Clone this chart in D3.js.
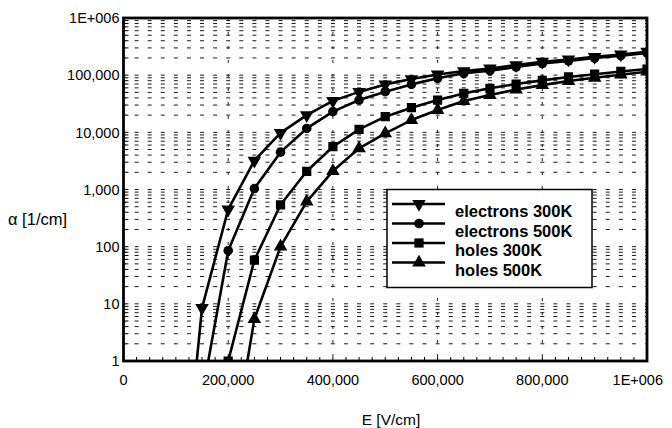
<!DOCTYPE html>
<html>
<head>
<meta charset="utf-8">
<script src="https://cdn.jsdelivr.net/npm/d3@7"></script>
<style>
  html, body { margin: 0; padding: 0; background: #fff; }
  svg { display: block; }
  text { font-family: "Liberation Sans", Arial, Helvetica, sans-serif; fill: #000; }
</style>
</head>
<body>
<svg id="chart" width="672" height="428"></svg>
<script>
// Field strength samples (V/cm)
const fieldE = [100000, 150000, 200000, 250000, 300000, 350000, 400000, 450000, 500000,
  550000, 600000, 650000, 700000, 750000, 800000, 850000, 900000, 950000, 1000000];

// Impact ionization coefficients (1/cm); null = no sample
const electrons300K = [0.0002, 8.5, 450, 3200, 9800, 20000, 35500, 51000, 69000,
  85500, 103000, 118000, 131000, 150000, 172000, 188000, 209000, 230000, 257000];
const electrons500K = [null, 0.25, 85, 1040, 4500, 11700, 23000, 36700, 51300,
  69000, 88000, 108000, 120000, 139000, 160000, 178000, 199000, 220000, 246000];
const holes300K = [null, null, 1, 58, 540, 2080, 5600, 11300, 18800,
  27000, 36700, 48000, 59000, 70000, 81000, 93000, 104000, 116000, 128000];
const holes500K = [null, null, 0.01, 5.4, 100, 615, 2100, 5260, 9600,
  16400, 24600, 35300, 45000, 56000, 67000, 79000, 90000, 102000, 115000];

const seriesNames = ["electrons 300K", "electrons 500K", "holes 300K", "holes 500K"];
const seriesValues = [electrons300K, electrons500K, holes300K, holes500K];
const seriesMarkers = ["triangleDown", "circle", "square", "triangleUp"];

const xTickValues = [0, 200000, 400000, 600000, 800000, 1000000];
const xTickLabels = ["0", "200,000", "400,000", "600,000", "800,000", "1E+006"];
const yTickValues = [1, 10, 100, 1000, 10000, 100000, 1000000];
const yTickLabels = ["1", "10", "100", "1,000", "10,000", "100,000", "1E+006"];

const xTitle = "E [V/cm]";
const yTitle = "\u03B1 [1/cm]";

// Layout
const plotLeft = 123.5, plotRight = 647, plotTop = 18, plotBottom = 361;

const svg = d3.select("#chart");
const x = d3.scaleLinear().domain([0, 1000000]).range([plotLeft, plotRight]);
const y = d3.scaleLog().domain([1, 1000000]).range([plotBottom, plotTop]);

svg.append("defs").append("clipPath").attr("id", "plotClip")
  .append("rect").attr("x", plotLeft).attr("y", plotTop)
  .attr("width", plotRight - plotLeft).attr("height", plotBottom - plotTop);

// Minor log gridlines (1..9 x 10^n), dashed in step with the 25,000 x-ticks
const step = x(25000) - x(0);
const gridVals = [];
for (let n = 0; n < 6; n++) {
  for (let k = 1; k <= 9; k++) {
    const v = k * Math.pow(10, n);
    if (v > 1) gridVals.push(v);
  }
}
svg.append("g").selectAll("line").data(gridVals).join("line")
  .attr("x1", plotLeft).attr("x2", plotRight)
  .attr("y1", d => y(d)).attr("y2", d => y(d))
  .attr("stroke", "#1a1a1a").attr("stroke-width", 1)
  .attr("stroke-dasharray", `4,${step - 4}`)
  .attr("stroke-dashoffset", 2);

// Major vertical gridlines
svg.append("g").selectAll("line").data(xTickValues.slice(1, -1)).join("line")
  .attr("x1", d => x(d)).attr("x2", d => x(d))
  .attr("y1", plotTop).attr("y2", plotBottom)
  .attr("stroke", "#222").attr("stroke-width", 1)
  .attr("stroke-dasharray", "3,11");

// Left axis ticks (inward)
const yTicksAll = [];
for (let n = 0; n < 6; n++) for (let k = 1; k <= 9; k++) yTicksAll.push(k * Math.pow(10, n));
svg.append("g").selectAll("line").data(yTicksAll).join("line")
  .attr("x1", plotLeft).attr("x2", plotLeft + 5)
  .attr("y1", d => y(d)).attr("y2", d => y(d))
  .attr("stroke", "#000").attr("stroke-width", 1);

// Bottom axis ticks (inward) every 25,000
const xTicksAll = d3.range(0, 1000001, 25000);
svg.append("g").selectAll("line").data(xTicksAll).join("line")
  .attr("x1", d => x(d)).attr("x2", d => x(d))
  .attr("y1", plotBottom).attr("y2", plotBottom - 4)
  .attr("stroke", "#000").attr("stroke-width", 1);

// Curves
const lineGen = d3.line()
  .defined(d => d.v != null)
  .x(d => x(d.e))
  .y(d => y(d.v));

const plot = svg.append("g").attr("clip-path", "url(#plotClip)");

const symbolFor = (kind) => {
  if (kind === "circle") return d3.symbol(d3.symbolCircle, 72)();
  if (kind === "square") return d3.symbol(d3.symbolSquare, 85)();
  return d3.symbol(d3.symbolTriangle, 80)();
};
const rotFor = (kind) => kind === "triangleDown" ? " rotate(180)" : "";

seriesValues.forEach((vals, i) => {
  const pts = fieldE.map((e, j) => ({ e, v: vals[j] }));
  plot.append("path").datum(pts)
    .attr("d", lineGen)
    .attr("fill", "none").attr("stroke", "#000")
    .attr("stroke-width", 2.6).attr("stroke-linejoin", "round");
  plot.append("g").selectAll("path").data(pts.filter(d => d.v != null)).join("path")
    .attr("d", symbolFor(seriesMarkers[i]))
    .attr("transform", d => `translate(${x(d.e)},${y(d.v)})${rotFor(seriesMarkers[i])}`)
    .attr("fill", "#000");
});

// Frame
svg.append("rect").attr("x", plotLeft).attr("y", plotTop)
  .attr("width", plotRight - plotLeft).attr("height", plotBottom - plotTop)
  .attr("fill", "none").attr("stroke", "#000").attr("stroke-width", 2.8);

// Tick labels
svg.append("g").selectAll("text").data(yTickValues).join("text")
  .attr("x", plotLeft - 4).attr("y", d => y(d))
  .attr("dy", "0.36em").attr("text-anchor", "end")
  .attr("font-size", 14.5)
  .text((d, i) => yTickLabels[i]);

// last label is kept inside the page edge
svg.append("g").selectAll("text").data(xTickValues).join("text")
  .attr("x", (d, i) => i === xTickValues.length - 1 ? 663 : x(d))
  .attr("y", 385)
  .attr("text-anchor", (d, i) => i === xTickValues.length - 1 ? "end" : "middle")
  .attr("font-size", 14.5)
  .text((d, i) => xTickLabels[i]);

// Axis titles
svg.append("text").attr("x", 8).attr("y", 225)
  .attr("font-size", 16.5).text(yTitle);
svg.append("text").attr("x", 391).attr("y", 425)
  .attr("text-anchor", "middle").attr("font-size", 15.5).text(xTitle);

// Legend
const legend = svg.append("g");
legend.append("rect").attr("x", 387).attr("y", 189.5)
  .attr("width", 205).attr("height", 98)
  .attr("fill", "#fff").attr("stroke", "#000").attr("stroke-width", 1.5);
const rowY = [204, 223.5, 243, 262.5];
seriesNames.forEach((name, i) => {
  const g = legend.append("g");
  g.append("line").attr("x1", 392).attr("x2", 445)
    .attr("y1", rowY[i]).attr("y2", rowY[i])
    .attr("stroke", "#000").attr("stroke-width", 2.6);
  g.append("path").attr("d", symbolFor(seriesMarkers[i]))
    .attr("transform", `translate(419,${rowY[i]})${rotFor(seriesMarkers[i])}`)
    .attr("fill", "#000");
  g.append("text").attr("x", 455).attr("y", rowY[i] + 13)
    .attr("font-size", 16.5).attr("font-weight", "bold")
    .text(name);
});
</script>
</body>
</html>
